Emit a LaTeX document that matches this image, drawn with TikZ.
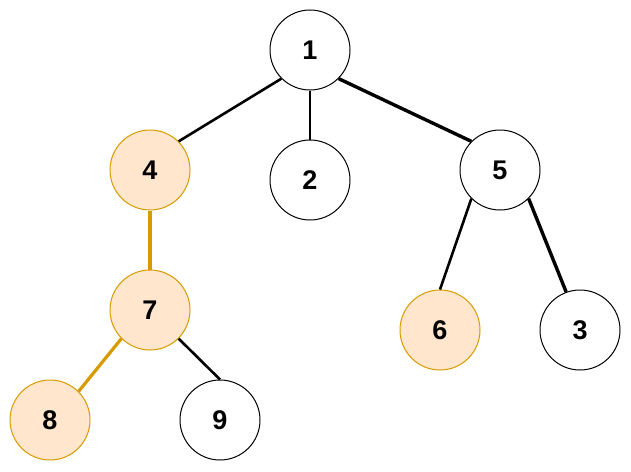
\documentclass[tikz,border=0pt]{standalone}
\usepackage{fontspec}
\setmainfont{Liberation Sans}
\definecolor{ofill}{HTML}{FFE6CC}
\definecolor{oline}{HTML}{D79B00}
\begin{document}
\begin{tikzpicture}[x=1pt,y=-1pt,
  vtx/.style={circle,draw=black,line width=1pt,minimum size=80pt,inner sep=0pt,font=\fontsize{27}{31}\selectfont\bfseries},
  hot/.style={vtx,draw=oline,fill=ofill},
  thin/.style={line width=2.6pt},
  thick/.style={line width=3.4pt},
  hedge/.style={line width=3.2pt,draw=oline}]
\useasboundingbox (0,0) rectangle (631,471);
\node[vtx] (n1) at (310,50) {1};
\node[hot] (n4) at (150,170) {4};
\node[vtx] (n2) at (310,180) {2};
\node[vtx] (n5) at (500,170) {5};
\node[hot] (n7) at (150,310) {7};
\node[hot] (n6) at (440,330) {6};
\node[vtx] (n3) at (580,330) {3};
\node[hot] (n8) at (50,420) {8};
\node[vtx] (n9) at (220,420) {9};
\draw[thin] (n1.225) -- (n4.45);
\draw[thin] (n1.south) -- (n2.north);
\draw[thick] (n1.-45) -- (n5.135);
\draw[thin] (n5.225) -- (n6.north);
\draw[thick] (n5.-45) -- (n3.110);
\draw[hedge] (n4.south) -- (n7.north);
\draw[hedge] (n7.225) -- (n8.45);
\draw[thin] (n7.-45) -- (n9.north);
\end{tikzpicture}
\end{document}
